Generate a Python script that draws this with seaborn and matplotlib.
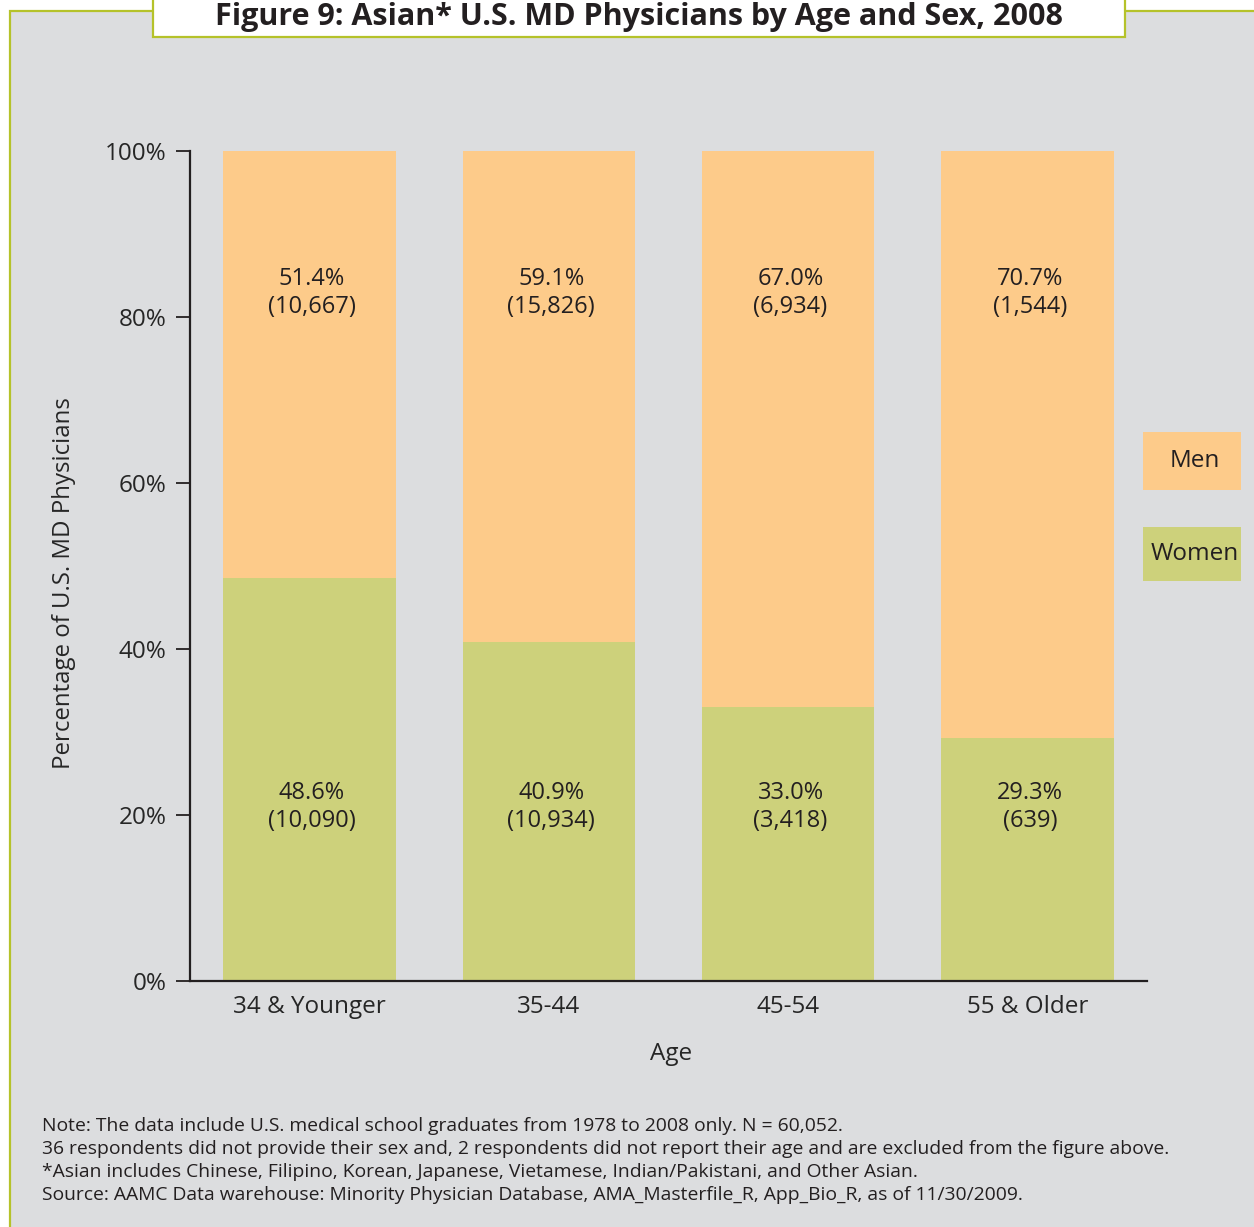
import numpy as np
import pandas as pd
import matplotlib
matplotlib.use("Agg")
import matplotlib.pyplot as plt
from matplotlib.patches import Rectangle
import seaborn as sns

# data
ages = ["34 & Younger", "35-44", "45-54", "55 & Older"]
women_pct = [48.6, 40.9, 33.0, 29.3]
men_pct = [51.4, 59.1, 67.0, 70.7]
women_n = [10090, 10934, 3418, 639]
men_n = [10667, 15826, 6934, 1544]
yticks = [0, 20, 40, 60, 80, 100]

notes = [
    "Note: The data include U.S. medical school graduates from 1978 to 2008 only. N = 60,052.",
    "36 respondents did not provide their sex and, 2 respondents did not report their age and are excluded from the figure above.",
    "*Asian includes Chinese, Filipino, Korean, Japanese, Vietamese, Indian/Pakistani, and Other Asian.",
    "Source: AAMC Data warehouse: Minority Physician Database, AMA_Masterfile_R, App_Bio_R, as of 11/30/2009.",
]

df = pd.DataFrame({"age": ages, "women": women_pct, "men": men_pct})
df["total"] = df["women"] + df["men"]

MEN = "#fdcb8a"
WOMEN = "#cdd17b"
BG = "#dcdddf"
GREEN = "#b5c22a"
INK = "#231f20"

sns.set_style("white")
plt.rcParams["font.family"] = ["Open Sans", "DejaVu Sans"]
plt.rcParams["text.color"] = INK

W, H = 1254, 1227
fig = plt.figure(figsize=(W / 100, H / 100), dpi=100, facecolor="white")

# gray panel with green frame, and white title tab
fig.add_artist(Rectangle((10 / W, -0.02), 1.05, 1 - 11 / H + 0.02, transform=fig.transFigure,
                         fc=BG, ec=GREEN, lw=1.6, zorder=-10))
fig.add_artist(Rectangle((153 / W, 1 - 37 / H), (1125 - 153) / W, 0.06, transform=fig.transFigure,
                         fc="white", ec=GREEN, lw=1.6, zorder=-9))
fig.text(639 / W, 1 - 25 / H, "Figure 9: Asian* U.S. MD Physicians by Age and Sex, 2008",
         ha="center", va="baseline", fontsize=22, fontweight="bold")

ax = fig.add_axes([190 / W, 1 - 981 / H, (1147 - 190) / W, (981 - 151) / H])
ax.patch.set_alpha(0)

sns.barplot(data=df, x="age", y="total", color=MEN, saturation=1, width=0.72,
            linewidth=0, edgecolor="none", ax=ax)
sns.barplot(data=df, x="age", y="women", color=WOMEN, saturation=1, width=0.72,
            linewidth=0, edgecolor="none", ax=ax)

for i in range(len(ages)):
    ax.text(i + 0.01, 82.9, f"{men_pct[i]:.1f}%\n({men_n[i]:,})", ha="center", va="center",
            fontsize=17, linespacing=1.22)
    ax.text(i + 0.01, 21, f"{women_pct[i]:.1f}%\n({women_n[i]:,})", ha="center", va="center",
            fontsize=17, linespacing=1.22)

ax.set_xlim(-0.5, 3.5)
ax.set_ylim(0, 100)
ax.set_yticks(yticks)
ax.set_yticklabels([f"{t}%" for t in yticks])
sns.despine(ax=ax)
for s in ["left", "bottom"]:
    ax.spines[s].set_color(INK)
    ax.spines[s].set_linewidth(1.6)
ax.tick_params(axis="y", length=10, width=1.3, color=INK, labelsize=17.5, pad=7, left=True)
ax.tick_params(axis="x", length=0, labelsize=17.5, pad=10)

ax.set_xlabel("Age", fontsize=17.5, va="center")
ax.xaxis.set_label_coords((671 - 190) / 957, (981 - 1054) / 830)
ax.set_ylabel("Percentage of U.S. MD Physicians", fontsize=17.3, va="center")
ax.yaxis.set_label_coords((64 - 190) / 957, (981 - 583) / 830)

# legend boxes with labels inside
for label, col, y0, y1 in [("Men", MEN, 432, 490), ("Women", WOMEN, 527, 581)]:
    fig.add_artist(Rectangle((1143 / W, 1 - y1 / H), 98 / W, (y1 - y0) / H,
                             transform=fig.transFigure, fc=col, ec="none"))
    fig.text(1195 / W, 1 - (y0 + y1) / 2 / H, label, ha="center", va="center", fontsize=17.5)

for k, line in enumerate(notes):
    fig.text(42 / W, 1 - (1126 + 23 * k) / H, line, ha="left", va="center", fontsize=13.9)

fig.savefig("out.png", dpi=100, facecolor="white")
